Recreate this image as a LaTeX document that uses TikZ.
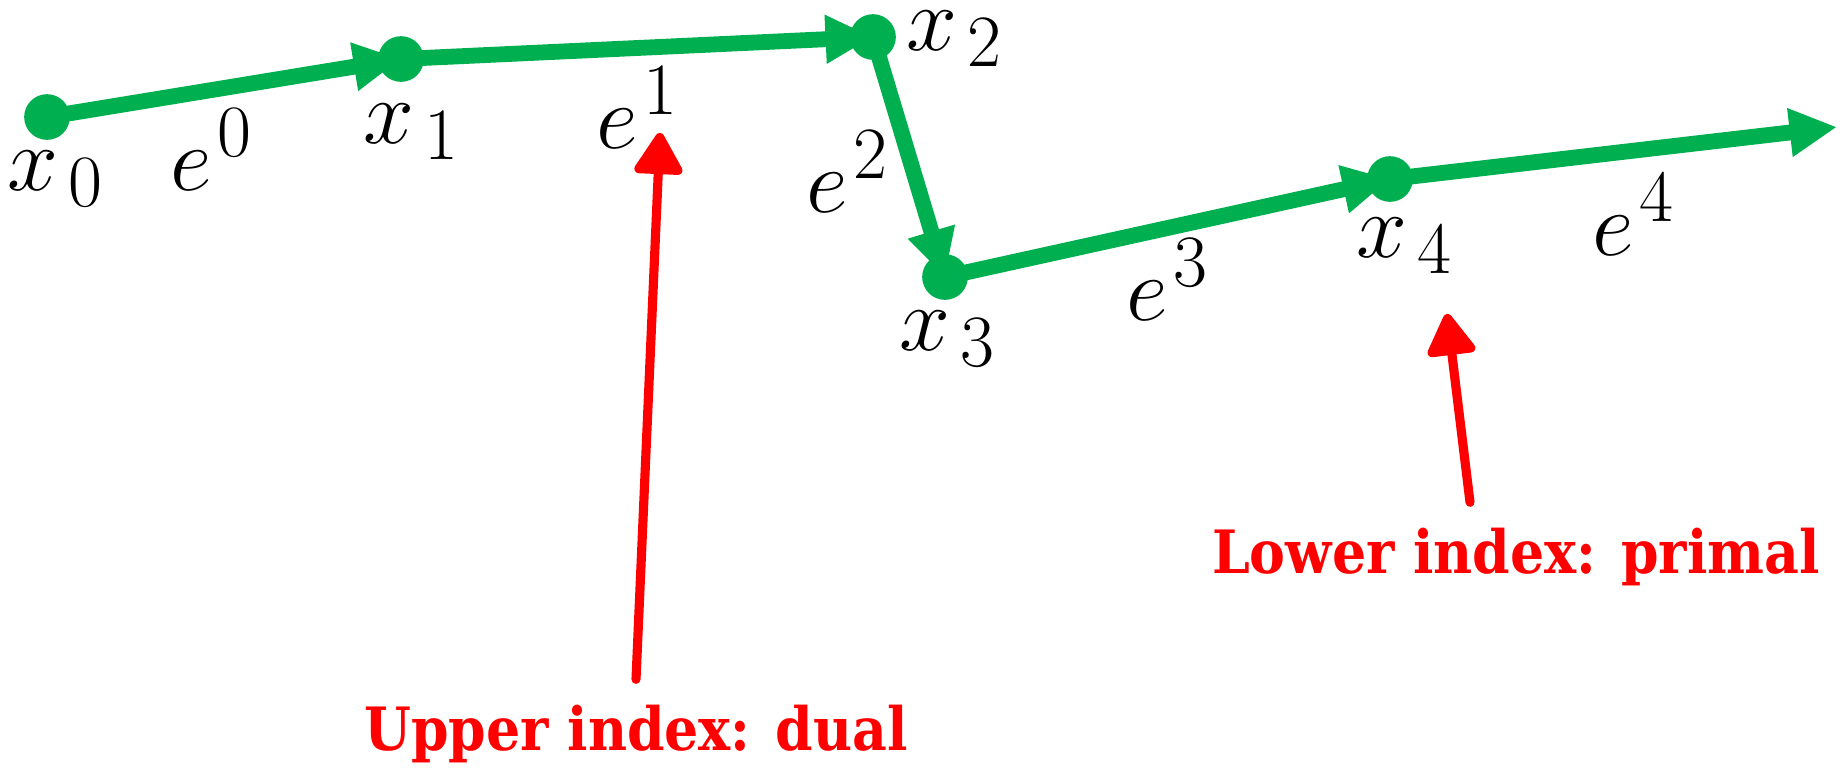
\documentclass[tikz,border=0pt]{standalone}
\usepackage{fix-cm}
\usepackage{fontspec}
\newfontfamily\notefont{DejaVu Serif Condensed}
\usetikzlibrary{arrows.meta, backgrounds}
\DeclareMathSizes{26}{26}{21}{16}
\definecolor{pathgreen}{RGB}{0,176,80}
\newcommand{\lbl}{\fontsize{26}{31}\selectfont}
\newcommand{\iter}[1]{x_{\kern3pt #1}}
\newcommand{\dir}[1]{e^{\kern1.5pt #1}}

\begin{document}
\begin{tikzpicture}[
  iterate/.style={circle, fill=pathgreen, inner sep=0pt, minimum size=13pt},
  lab/.style={anchor=base, inner sep=0pt, font=\lbl},
  move/.style={draw=pathgreen, line width=4.5pt, -{Triangle[length=13.5pt, width=13pt]}},
  note/.style={anchor=base, inner sep=0pt, text=red,
    font=\notefont\bfseries\fontsize{17}{21}\selectfont},
  pointer/.style={draw=red, line width=2.6pt, line cap=round,
    -{Triangle[round, length=13pt, width=15pt]}},
]
\useasboundingbox (0,0) rectangle (18.45,-7.67);

% ---- the iterates -----------------------------------------------------------
\node[iterate] (x0) at (0.47,-1.17) {};
\node[iterate] (x1) at (4.01,-0.59) {};
\node[iterate] (x2) at (8.73,-0.37) {};
\node[iterate] (x3) at (9.45,-2.77) {};
\node[iterate] (x4) at (13.90,-1.79) {};
\coordinate (far) at (18.37,-1.27);

% steps run centre to centre, under the dots
\begin{pgfonlayer}{background}
  \draw[move] (x0.center) -- (x1.center);
  \draw[move] (x1.center) -- (x2.center);
  \draw[move] (x2.center) -- (x3.center);
  \draw[move] (x3.center) -- (x4.center);
  \draw[move] (x4.center) -- (far);
\end{pgfonlayer}

% ---- labels -----------------------------------------------------------------
\node[lab] (lx0) at (0.56,-1.90) {$\iter{0}$};
\node[lab] (lx1) at (4.12,-1.43) {$\iter{1}$};
\node[lab] (lx2) at (9.55,-0.50) {$\iter{2}$};
\node[lab] (lx3) at (9.48,-3.50) {$\iter{3}$};
\node[lab] (lx4) at (14.05,-2.57) {$\iter{4}$};
\node[lab] (le0) at (2.12,-1.90) {$\dir{0}$};
\node[lab] (le1) at (6.38,-1.48) {$\dir{1}$};
\node[lab] (le2) at (8.48,-2.12) {$\dir{2}$};
\node[lab] (le3) at (11.68,-3.20) {$\dir{3}$};
\node[lab] (le4) at (16.34,-2.55) {$\dir{4}$};

% ---- what the indices mean --------------------------------------------------
\node[note] (dual) at (6.36,-7.50) {Upper index: dual};
\node[note] (primal) at (15.16,-5.73) {Lower index: primal};
\coordinate (duallook) at (6.60,-1.33);
\coordinate (primallook) at (14.47,-3.14);
\draw[pointer] ([yshift=7pt]dual.north) -- (duallook);
\draw[pointer] ([xshift=-0.46cm, yshift=7pt]primal.north) -- (primallook);

\end{tikzpicture}
\end{document}
